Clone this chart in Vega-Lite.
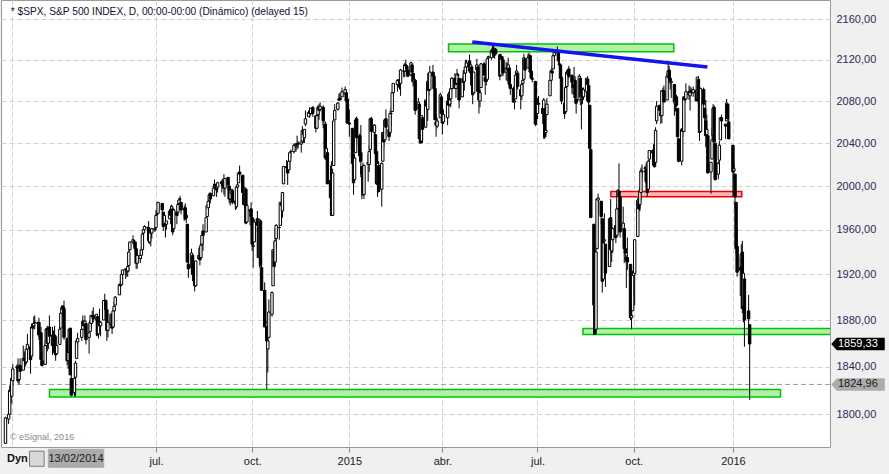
{
"$schema":"https://vega.github.io/schema/vega-lite/v6.json",
"width":829,"height":447,
"autosize":{"type":"none"},
"padding":{"left":1,"top":0,"right":59,"bottom":27},
"background":"#f0f0f0",
"config":{"view":{"fill":"white","stroke":"#9a9a9a","strokeWidth":1},"font":"Liberation Sans"},
"datasets":{
"ohlc":[
{"d":"2014-02-07","o":1776,"h":1798,"l":1776,"c":1797},
{"d":"2014-02-10","o":1796,"h":1800,"l":1792,"c":1800},
{"d":"2014-02-11","o":1800,"h":1824,"l":1800,"c":1820},
{"d":"2014-02-12","o":1820,"h":1826,"l":1815,"c":1819},
{"d":"2014-02-13","o":1815,"h":1830,"l":1809,"c":1830},
{"d":"2014-02-14","o":1828,"h":1842,"l":1824,"c":1838},
{"d":"2014-02-18","o":1839,"h":1842,"l":1835,"c":1840},
{"d":"2014-02-19","o":1840,"h":1847,"l":1826,"c":1828},
{"d":"2014-02-20","o":1829,"h":1842,"l":1825,"c":1839},
{"d":"2014-02-21","o":1841,"h":1847,"l":1835,"c":1836},
{"d":"2014-02-24","o":1837,"h":1858,"l":1837,"c":1847},
{"d":"2014-02-25","o":1847,"h":1853,"l":1841,"c":1845},
{"d":"2014-02-26","o":1846,"h":1852,"l":1840,"c":1846},
{"d":"2014-02-27","o":1844,"h":1855,"l":1842,"c":1855},
{"d":"2014-02-28","o":1855,"h":1868,"l":1846,"c":1859},
{"d":"2014-03-03","o":1857,"h":1857,"l":1834,"c":1846},
{"d":"2014-03-04","o":1849,"h":1877,"l":1849,"c":1874},
{"d":"2014-03-05","o":1874,"h":1876,"l":1871,"c":1873},
{"d":"2014-03-06","o":1875,"h":1883,"l":1874,"c":1877},
{"d":"2014-03-07","o":1878,"h":1884,"l":1872,"c":1878},
{"d":"2014-03-10","o":1878,"h":1878,"l":1867,"c":1877},
{"d":"2014-03-11","o":1878,"h":1882,"l":1863,"c":1867},
{"d":"2014-03-12","o":1866,"h":1868,"l":1858,"c":1868},
{"d":"2014-03-13","o":1869,"h":1874,"l":1841,"c":1846},
{"d":"2014-03-14","o":1845,"h":1853,"l":1840,"c":1841},
{"d":"2014-03-17","o":1842,"h":1862,"l":1842,"c":1858},
{"d":"2014-03-18","o":1858,"h":1873,"l":1858,"c":1872},
{"d":"2014-03-19","o":1873,"h":1875,"l":1853,"c":1860},
{"d":"2014-03-20","o":1860,"h":1873,"l":1855,"c":1872},
{"d":"2014-03-21","o":1874,"h":1884,"l":1864,"c":1866},
{"d":"2014-03-24","o":1867,"h":1874,"l":1850,"c":1858},
{"d":"2014-03-25","o":1859,"h":1871,"l":1859,"c":1866},
{"d":"2014-03-26","o":1867,"h":1875,"l":1852,"c":1852},
{"d":"2014-03-27","o":1852,"h":1856,"l":1845,"c":1850},
{"d":"2014-03-28","o":1851,"h":1866,"l":1851,"c":1858},
{"d":"2014-03-31","o":1859,"h":1873,"l":1859,"c":1872},
{"d":"2014-04-01","o":1873,"h":1886,"l":1873,"c":1886},
{"d":"2014-04-02","o":1886,"h":1893,"l":1884,"c":1891},
{"d":"2014-04-03","o":1892,"h":1893,"l":1883,"c":1889},
{"d":"2014-04-04","o":1890,"h":1897,"l":1863,"c":1865},
{"d":"2014-04-07","o":1864,"h":1865,"l":1841,"c":1845},
{"d":"2014-04-08","o":1845,"h":1855,"l":1838,"c":1852},
{"d":"2014-04-09","o":1852,"h":1872,"l":1849,"c":1872},
{"d":"2014-04-10","o":1873,"h":1873,"l":1833,"c":1833},
{"d":"2014-04-11","o":1830,"h":1835,"l":1815,"c":1816},
{"d":"2014-04-14","o":1818,"h":1834,"l":1815,"c":1830},
{"d":"2014-04-15","o":1831,"h":1845,"l":1815,"c":1843},
{"d":"2014-04-16","o":1847,"h":1862,"l":1847,"c":1862},
{"d":"2014-04-17","o":1861,"h":1869,"l":1857,"c":1864},
{"d":"2014-04-21","o":1865,"h":1872,"l":1862,"c":1872},
{"d":"2014-04-22","o":1872,"h":1884,"l":1872,"c":1879},
{"d":"2014-04-23","o":1879,"h":1879,"l":1873,"c":1875},
{"d":"2014-04-24","o":1876,"h":1884,"l":1868,"c":1879},
{"d":"2014-04-25","o":1877,"h":1877,"l":1859,"c":1863},
{"d":"2014-04-28","o":1865,"h":1877,"l":1851,"c":1869},
{"d":"2014-04-29","o":1870,"h":1880,"l":1870,"c":1878},
{"d":"2014-04-30","o":1877,"h":1884,"l":1873,"c":1884},
{"d":"2014-05-01","o":1884,"h":1888,"l":1878,"c":1883},
{"d":"2014-05-02","o":1884,"h":1891,"l":1878,"c":1881},
{"d":"2014-05-05","o":1880,"h":1885,"l":1866,"c":1885},
{"d":"2014-05-06","o":1883,"h":1883,"l":1867,"c":1867},
{"d":"2014-05-07","o":1868,"h":1879,"l":1864,"c":1878},
{"d":"2014-05-08","o":1877,"h":1890,"l":1871,"c":1875},
{"d":"2014-05-09","o":1875,"h":1879,"l":1866,"c":1878},
{"d":"2014-05-12","o":1880,"h":1897,"l":1880,"c":1897},
{"d":"2014-05-13","o":1897,"h":1903,"l":1896,"c":1897},
{"d":"2014-05-14","o":1897,"h":1898,"l":1886,"c":1889},
{"d":"2014-05-15","o":1889,"h":1889,"l":1862,"c":1871},
{"d":"2014-05-16","o":1871,"h":1878,"l":1865,"c":1878},
{"d":"2014-05-19","o":1876,"h":1886,"l":1873,"c":1885},
{"d":"2014-05-20","o":1884,"h":1884,"l":1868,"c":1873},
{"d":"2014-05-21","o":1874,"h":1889,"l":1874,"c":1888},
{"d":"2014-05-22","o":1888,"h":1896,"l":1888,"c":1892},
{"d":"2014-05-23","o":1893,"h":1901,"l":1893,"c":1900},
{"d":"2014-05-27","o":1902,"h":1912,"l":1902,"c":1911},
{"d":"2014-05-28","o":1911,"h":1914,"l":1908,"c":1910},
{"d":"2014-05-29","o":1911,"h":1920,"l":1911,"c":1920},
{"d":"2014-05-30","o":1920,"h":1924,"l":1916,"c":1924},
{"d":"2014-06-02","o":1924,"h":1925,"l":1916,"c":1925},
{"d":"2014-06-03","o":1924,"h":1925,"l":1918,"c":1924},
{"d":"2014-06-04","o":1923,"h":1928,"l":1918,"c":1927},
{"d":"2014-06-05","o":1928,"h":1942,"l":1922,"c":1940},
{"d":"2014-06-06","o":1942,"h":1949,"l":1941,"c":1949},
{"d":"2014-06-09","o":1949,"h":1955,"l":1947,"c":1951},
{"d":"2014-06-10","o":1950,"h":1951,"l":1944,"c":1950},
{"d":"2014-06-11","o":1949,"h":1949,"l":1940,"c":1943},
{"d":"2014-06-12","o":1943,"h":1943,"l":1925,"c":1930},
{"d":"2014-06-13","o":1930,"h":1937,"l":1925,"c":1937},
{"d":"2014-06-16","o":1934,"h":1941,"l":1930,"c":1937},
{"d":"2014-06-17","o":1937,"h":1944,"l":1934,"c":1942},
{"d":"2014-06-18","o":1942,"h":1957,"l":1939,"c":1956},
{"d":"2014-06-19","o":1957,"h":1961,"l":1950,"c":1960},
{"d":"2014-06-20","o":1960,"h":1964,"l":1959,"c":1963},
{"d":"2014-06-23","o":1962,"h":1963,"l":1958,"c":1962},
{"d":"2014-06-24","o":1962,"h":1968,"l":1948,"c":1950},
{"d":"2014-06-25","o":1949,"h":1960,"l":1947,"c":1959},
{"d":"2014-06-26","o":1959,"h":1959,"l":1945,"c":1957},
{"d":"2014-06-27","o":1957,"h":1961,"l":1952,"c":1961},
{"d":"2014-06-30","o":1961,"h":1963,"l":1958,"c":1960},
{"d":"2014-07-01","o":1962,"h":1978,"l":1962,"c":1973},
{"d":"2014-07-02","o":1974,"h":1976,"l":1972,"c":1974},
{"d":"2014-07-03","o":1975,"h":1985,"l":1975,"c":1985},
{"d":"2014-07-07","o":1984,"h":1984,"l":1975,"c":1978},
{"d":"2014-07-08","o":1976,"h":1976,"l":1959,"c":1963},
{"d":"2014-07-09","o":1965,"h":1974,"l":1965,"c":1973},
{"d":"2014-07-10","o":1966,"h":1969,"l":1953,"c":1965},
{"d":"2014-07-11","o":1965,"h":1968,"l":1960,"c":1968},
{"d":"2014-07-14","o":1970,"h":1979,"l":1970,"c":1977},
{"d":"2014-07-15","o":1977,"h":1982,"l":1965,"c":1973},
{"d":"2014-07-16","o":1976,"h":1983,"l":1975,"c":1981},
{"d":"2014-07-17","o":1979,"h":1981,"l":1955,"c":1958},
{"d":"2014-07-18","o":1961,"h":1979,"l":1961,"c":1978},
{"d":"2014-07-21","o":1976,"h":1976,"l":1965,"c":1973},
{"d":"2014-07-22","o":1976,"h":1986,"l":1976,"c":1983},
{"d":"2014-07-23","o":1984,"h":1989,"l":1982,"c":1987},
{"d":"2014-07-24","o":1988,"h":1991,"l":1984,"c":1988},
{"d":"2014-07-25","o":1985,"h":1985,"l":1974,"c":1978},
{"d":"2014-07-28","o":1978,"h":1982,"l":1968,"c":1979},
{"d":"2014-07-29","o":1980,"h":1984,"l":1969,"c":1970},
{"d":"2014-07-30","o":1973,"h":1979,"l":1966,"c":1971},
{"d":"2014-07-31","o":1965,"h":1965,"l":1930,"c":1931},
{"d":"2014-08-01","o":1929,"h":1937,"l":1917,"c":1925},
{"d":"2014-08-04","o":1926,"h":1943,"l":1922,"c":1939},
{"d":"2014-08-05","o":1937,"h":1938,"l":1914,"c":1920},
{"d":"2014-08-06","o":1918,"h":1929,"l":1911,"c":1920},
{"d":"2014-08-07","o":1923,"h":1928,"l":1905,"c":1910},
{"d":"2014-08-08","o":1910,"h":1932,"l":1909,"c":1932},
{"d":"2014-08-11","o":1934,"h":1944,"l":1934,"c":1937},
{"d":"2014-08-12","o":1936,"h":1940,"l":1928,"c":1933},
{"d":"2014-08-13","o":1935,"h":1948,"l":1935,"c":1946},
{"d":"2014-08-14","o":1947,"h":1955,"l":1945,"c":1955},
{"d":"2014-08-15","o":1959,"h":1965,"l":1941,"c":1955},
{"d":"2014-08-18","o":1958,"h":1971,"l":1958,"c":1971},
{"d":"2014-08-19","o":1972,"h":1982,"l":1972,"c":1982},
{"d":"2014-08-20","o":1980,"h":1987,"l":1979,"c":1986},
{"d":"2014-08-21","o":1987,"h":1994,"l":1986,"c":1992},
{"d":"2014-08-22","o":1993,"h":1994,"l":1984,"c":1988},
{"d":"2014-08-25","o":1991,"h":2002,"l":1991,"c":1998},
{"d":"2014-08-26","o":1999,"h":2006,"l":1998,"c":2000},
{"d":"2014-08-27","o":2000,"h":2002,"l":1996,"c":2000},
{"d":"2014-08-28","o":1998,"h":1998,"l":1990,"c":1997},
{"d":"2014-08-29","o":1999,"h":2004,"l":1994,"c":2003},
{"d":"2014-09-02","o":2004,"h":2006,"l":1994,"c":2002},
{"d":"2014-09-03","o":2003,"h":2007,"l":1998,"c":2000},
{"d":"2014-09-04","o":2001,"h":2011,"l":1992,"c":1998},
{"d":"2014-09-05","o":1998,"h":2007,"l":1990,"c":2007},
{"d":"2014-09-08","o":2008,"h":2008,"l":1996,"c":2001},
{"d":"2014-09-09","o":2000,"h":2001,"l":1984,"c":1988},
{"d":"2014-09-10","o":1988,"h":1996,"l":1982,"c":1996},
{"d":"2014-09-11","o":1993,"h":1997,"l":1986,"c":1997},
{"d":"2014-09-12","o":1996,"h":1997,"l":1983,"c":1985},
{"d":"2014-09-15","o":1986,"h":1987,"l":1978,"c":1984},
{"d":"2014-09-16","o":1981,"h":2000,"l":1979,"c":1999},
{"d":"2014-09-17","o":1999,"h":2010,"l":1993,"c":2001},
{"d":"2014-09-18","o":2003,"h":2013,"l":2003,"c":2012},
{"d":"2014-09-19","o":2013,"h":2019,"l":2006,"c":2011},
{"d":"2014-09-22","o":2010,"h":2010,"l":1990,"c":1994},
{"d":"2014-09-23","o":1992,"h":1995,"l":1982,"c":1983},
{"d":"2014-09-24","o":1983,"h":1999,"l":1979,"c":1998},
{"d":"2014-09-25","o":1997,"h":1997,"l":1965,"c":1966},
{"d":"2014-09-26","o":1967,"h":1983,"l":1967,"c":1982},
{"d":"2014-09-29","o":1978,"h":1978,"l":1964,"c":1977},
{"d":"2014-09-30","o":1979,"h":1985,"l":1968,"c":1972},
{"d":"2014-10-01","o":1971,"h":1972,"l":1941,"c":1947},
{"d":"2014-10-02","o":1945,"h":1952,"l":1926,"c":1946},
{"d":"2014-10-03","o":1949,"h":1970,"l":1949,"c":1967},
{"d":"2014-10-06","o":1970,"h":1977,"l":1958,"c":1964},
{"d":"2014-10-07","o":1962,"h":1962,"l":1935,"c":1935},
{"d":"2014-10-08","o":1935,"h":1970,"l":1926,"c":1969},
{"d":"2014-10-09","o":1968,"h":1968,"l":1927,"c":1928},
{"d":"2014-10-10","o":1926,"h":1936,"l":1906,"c":1906},
{"d":"2014-10-13","o":1906,"h":1913,"l":1874,"c":1874},
{"d":"2014-10-14","o":1878,"h":1898,"l":1871,"c":1878},
{"d":"2014-10-15","o":1874,"h":1874,"l":1821,"c":1862},
{"d":"2014-10-16","o":1855,"h":1876,"l":1835,"c":1862},
{"d":"2014-10-17","o":1865,"h":1898,"l":1865,"c":1887},
{"d":"2014-10-20","o":1885,"h":1905,"l":1883,"c":1904},
{"d":"2014-10-21","o":1910,"h":1942,"l":1910,"c":1942},
{"d":"2014-10-22","o":1941,"h":1950,"l":1927,"c":1927},
{"d":"2014-10-23","o":1931,"h":1961,"l":1931,"c":1950},
{"d":"2014-10-24","o":1952,"h":1965,"l":1944,"c":1964},
{"d":"2014-10-27","o":1962,"h":1964,"l":1951,"c":1962},
{"d":"2014-10-28","o":1964,"h":1985,"l":1964,"c":1985},
{"d":"2014-10-29","o":1984,"h":1991,"l":1970,"c":1982},
{"d":"2014-10-30","o":1977,"h":1994,"l":1971,"c":1994},
{"d":"2014-10-31","o":2002,"h":2018,"l":2002,"c":2018},
{"d":"2014-11-03","o":2018,"h":2024,"l":2013,"c":2017},
{"d":"2014-11-04","o":2015,"h":2015,"l":2001,"c":2012},
{"d":"2014-11-05","o":2015,"h":2024,"l":2015,"c":2023},
{"d":"2014-11-06","o":2023,"h":2031,"l":2015,"c":2031},
{"d":"2014-11-07","o":2032,"h":2034,"l":2026,"c":2032},
{"d":"2014-11-10","o":2032,"h":2038,"l":2030,"c":2038},
{"d":"2014-11-11","o":2038,"h":2040,"l":2035,"c":2039},
{"d":"2014-11-12","o":2037,"h":2040,"l":2032,"c":2038},
{"d":"2014-11-13","o":2039,"h":2047,"l":2034,"c":2039},
{"d":"2014-11-14","o":2040,"h":2042,"l":2035,"c":2039},
{"d":"2014-11-17","o":2039,"h":2043,"l":2031,"c":2041},
{"d":"2014-11-18","o":2042,"h":2056,"l":2042,"c":2052},
{"d":"2014-11-19","o":2051,"h":2052,"l":2040,"c":2048},
{"d":"2014-11-20","o":2045,"h":2053,"l":2040,"c":2053},
{"d":"2014-11-21","o":2058,"h":2071,"l":2056,"c":2063},
{"d":"2014-11-24","o":2065,"h":2071,"l":2065,"c":2069},
{"d":"2014-11-25","o":2070,"h":2074,"l":2064,"c":2068},
{"d":"2014-11-26","o":2068,"h":2073,"l":2066,"c":2073},
{"d":"2014-11-28","o":2074,"h":2075,"l":2065,"c":2068},
{"d":"2014-12-01","o":2066,"h":2066,"l":2050,"c":2054},
{"d":"2014-12-02","o":2054,"h":2068,"l":2054,"c":2066},
{"d":"2014-12-03","o":2067,"h":2076,"l":2064,"c":2074},
{"d":"2014-12-04","o":2074,"h":2077,"l":2062,"c":2071},
{"d":"2014-12-05","o":2072,"h":2079,"l":2070,"c":2075},
{"d":"2014-12-08","o":2074,"h":2076,"l":2054,"c":2061},
{"d":"2014-12-09","o":2057,"h":2060,"l":2035,"c":2060},
{"d":"2014-12-10","o":2058,"h":2058,"l":2024,"c":2026},
{"d":"2014-12-11","o":2028,"h":2056,"l":2027,"c":2035},
{"d":"2014-12-12","o":2031,"h":2031,"l":2002,"c":2002},
{"d":"2014-12-15","o":2005,"h":2019,"l":1982,"c":1989},
{"d":"2014-12-16","o":1986,"h":2023,"l":1973,"c":1973},
{"d":"2014-12-17","o":1973,"h":2016,"l":1973,"c":2012},
{"d":"2014-12-18","o":2019,"h":2061,"l":2019,"c":2061},
{"d":"2014-12-19","o":2062,"h":2077,"l":2062,"c":2071},
{"d":"2014-12-22","o":2072,"h":2079,"l":2071,"c":2078},
{"d":"2014-12-23","o":2081,"h":2087,"l":2080,"c":2082},
{"d":"2014-12-24","o":2083,"h":2088,"l":2081,"c":2081},
{"d":"2014-12-26","o":2084,"h":2093,"l":2084,"c":2089},
{"d":"2014-12-29","o":2087,"h":2094,"l":2086,"c":2091},
{"d":"2014-12-30","o":2088,"h":2088,"l":2079,"c":2080},
{"d":"2014-12-31","o":2082,"h":2085,"l":2058,"c":2059},
{"d":"2015-01-02","o":2059,"h":2072,"l":2046,"c":2058},
{"d":"2015-01-05","o":2054,"h":2054,"l":2017,"c":2021},
{"d":"2015-01-06","o":2022,"h":2030,"l":1992,"c":2003},
{"d":"2015-01-07","o":2006,"h":2030,"l":2006,"c":2026},
{"d":"2015-01-08","o":2031,"h":2064,"l":2031,"c":2062},
{"d":"2015-01-09","o":2063,"h":2065,"l":2038,"c":2045},
{"d":"2015-01-12","o":2047,"h":2049,"l":2022,"c":2028},
{"d":"2015-01-13","o":2031,"h":2057,"l":2008,"c":2023},
{"d":"2015-01-14","o":2018,"h":2018,"l":1988,"c":2011},
{"d":"2015-01-15","o":2013,"h":2022,"l":1991,"c":1992},
{"d":"2015-01-16","o":1992,"h":2020,"l":1988,"c":2019},
{"d":"2015-01-20","o":2020,"h":2029,"l":2004,"c":2022},
{"d":"2015-01-21","o":2020,"h":2038,"l":2013,"c":2032},
{"d":"2015-01-22","o":2034,"h":2064,"l":2026,"c":2063},
{"d":"2015-01-23","o":2063,"h":2065,"l":2050,"c":2051},
{"d":"2015-01-26","o":2050,"h":2058,"l":2041,"c":2057},
{"d":"2015-01-27","o":2048,"h":2049,"l":2017,"c":2030},
{"d":"2015-01-28","o":2032,"h":2042,"l":2001,"c":2002},
{"d":"2015-01-29","o":2003,"h":2025,"l":1990,"c":2021},
{"d":"2015-01-30","o":2019,"h":2023,"l":1994,"c":1995},
{"d":"2015-02-02","o":1997,"h":2022,"l":1981,"c":2021},
{"d":"2015-02-03","o":2023,"h":2050,"l":2023,"c":2050},
{"d":"2015-02-04","o":2049,"h":2054,"l":2036,"c":2041},
{"d":"2015-02-05","o":2043,"h":2063,"l":2043,"c":2062},
{"d":"2015-02-06","o":2063,"h":2072,"l":2049,"c":2055},
{"d":"2015-02-09","o":2053,"h":2057,"l":2042,"c":2046},
{"d":"2015-02-10","o":2050,"h":2071,"l":2048,"c":2068},
{"d":"2015-02-11","o":2068,"h":2074,"l":2057,"c":2068},
{"d":"2015-02-12","o":2070,"h":2089,"l":2070,"c":2088},
{"d":"2015-02-13","o":2088,"h":2097,"l":2086,"c":2097},
{"d":"2015-02-17","o":2096,"h":2101,"l":2089,"c":2100},
{"d":"2015-02-18","o":2100,"h":2101,"l":2093,"c":2100},
{"d":"2015-02-19","o":2099,"h":2102,"l":2091,"c":2098},
{"d":"2015-02-20","o":2097,"h":2111,"l":2085,"c":2110},
{"d":"2015-02-23","o":2109,"h":2110,"l":2103,"c":2109},
{"d":"2015-02-24","o":2109,"h":2117,"l":2103,"c":2115},
{"d":"2015-02-25","o":2115,"h":2120,"l":2108,"c":2114},
{"d":"2015-02-26","o":2114,"h":2115,"l":2104,"c":2111},
{"d":"2015-02-27","o":2110,"h":2112,"l":2103,"c":2104},
{"d":"2015-03-02","o":2105,"h":2118,"l":2104,"c":2117},
{"d":"2015-03-03","o":2115,"h":2115,"l":2098,"c":2108},
{"d":"2015-03-04","o":2107,"h":2107,"l":2094,"c":2099},
{"d":"2015-03-05","o":2099,"h":2104,"l":2096,"c":2101},
{"d":"2015-03-06","o":2100,"h":2101,"l":2067,"c":2071},
{"d":"2015-03-09","o":2073,"h":2083,"l":2072,"c":2079},
{"d":"2015-03-10","o":2077,"h":2077,"l":2044,"c":2044},
{"d":"2015-03-11","o":2045,"h":2050,"l":2040,"c":2040},
{"d":"2015-03-12","o":2042,"h":2066,"l":2042,"c":2066},
{"d":"2015-03-13","o":2064,"h":2064,"l":2040,"c":2053},
{"d":"2015-03-16","o":2055,"h":2081,"l":2055,"c":2081},
{"d":"2015-03-17","o":2080,"h":2080,"l":2065,"c":2075},
{"d":"2015-03-18","o":2072,"h":2107,"l":2061,"c":2099},
{"d":"2015-03-19","o":2098,"h":2099,"l":2085,"c":2090},
{"d":"2015-03-20","o":2091,"h":2114,"l":2091,"c":2108},
{"d":"2015-03-23","o":2108,"h":2115,"l":2104,"c":2104},
{"d":"2015-03-24","o":2104,"h":2107,"l":2091,"c":2092},
{"d":"2015-03-25","o":2092,"h":2098,"l":2062,"c":2062},
{"d":"2015-03-26","o":2060,"h":2067,"l":2046,"c":2057},
{"d":"2015-03-27","o":2056,"h":2064,"l":2054,"c":2061},
{"d":"2015-03-30","o":2064,"h":2088,"l":2064,"c":2086},
{"d":"2015-03-31","o":2084,"h":2084,"l":2067,"c":2068},
{"d":"2015-04-01","o":2067,"h":2067,"l":2048,"c":2059},
{"d":"2015-04-02","o":2060,"h":2072,"l":2058,"c":2067},
{"d":"2015-04-06","o":2064,"h":2087,"l":2057,"c":2080},
{"d":"2015-04-07","o":2080,"h":2089,"l":2076,"c":2076},
{"d":"2015-04-08","o":2077,"h":2086,"l":2075,"c":2081},
{"d":"2015-04-09","o":2082,"h":2092,"l":2074,"c":2092},
{"d":"2015-04-10","o":2092,"h":2103,"l":2090,"c":2102},
{"d":"2015-04-13","o":2102,"h":2107,"l":2092,"c":2092},
{"d":"2015-04-14","o":2092,"h":2097,"l":2083,"c":2096},
{"d":"2015-04-15","o":2097,"h":2111,"l":2097,"c":2106},
{"d":"2015-04-16","o":2105,"h":2107,"l":2101,"c":2105},
{"d":"2015-04-17","o":2102,"h":2102,"l":2073,"c":2081},
{"d":"2015-04-20","o":2084,"h":2101,"l":2084,"c":2101},
{"d":"2015-04-21","o":2102,"h":2110,"l":2095,"c":2098},
{"d":"2015-04-22","o":2099,"h":2110,"l":2090,"c":2107},
{"d":"2015-04-23","o":2107,"h":2120,"l":2104,"c":2113},
{"d":"2015-04-24","o":2113,"h":2120,"l":2113,"c":2117},
{"d":"2015-04-27","o":2119,"h":2125,"l":2107,"c":2109},
{"d":"2015-04-28","o":2108,"h":2116,"l":2095,"c":2115},
{"d":"2015-04-29","o":2113,"h":2113,"l":2098,"c":2106},
{"d":"2015-04-30","o":2106,"h":2106,"l":2077,"c":2086},
{"d":"2015-05-01","o":2088,"h":2108,"l":2088,"c":2108},
{"d":"2015-05-04","o":2110,"h":2121,"l":2110,"c":2115},
{"d":"2015-05-05","o":2113,"h":2115,"l":2089,"c":2089},
{"d":"2015-05-06","o":2090,"h":2099,"l":2068,"c":2081},
{"d":"2015-05-07","o":2080,"h":2092,"l":2074,"c":2088},
{"d":"2015-05-08","o":2093,"h":2117,"l":2093,"c":2116},
{"d":"2015-05-11","o":2116,"h":2118,"l":2104,"c":2105},
{"d":"2015-05-12","o":2103,"h":2105,"l":2086,"c":2099},
{"d":"2015-05-13","o":2100,"h":2110,"l":2095,"c":2099},
{"d":"2015-05-14","o":2101,"h":2121,"l":2101,"c":2121},
{"d":"2015-05-15","o":2122,"h":2124,"l":2116,"c":2123},
{"d":"2015-05-18","o":2122,"h":2131,"l":2120,"c":2129},
{"d":"2015-05-19","o":2130,"h":2134,"l":2124,"c":2127},
{"d":"2015-05-20","o":2127,"h":2135,"l":2122,"c":2125},
{"d":"2015-05-21","o":2125,"h":2132,"l":2121,"c":2131},
{"d":"2015-05-22","o":2130,"h":2131,"l":2124,"c":2126},
{"d":"2015-05-26","o":2125,"h":2125,"l":2100,"c":2104},
{"d":"2015-05-27","o":2105,"h":2126,"l":2104,"c":2123},
{"d":"2015-05-28","o":2123,"h":2123,"l":2113,"c":2120},
{"d":"2015-05-29","o":2120,"h":2121,"l":2104,"c":2107},
{"d":"2015-06-01","o":2108,"h":2118,"l":2100,"c":2112},
{"d":"2015-06-02","o":2111,"h":2117,"l":2099,"c":2110},
{"d":"2015-06-03","o":2111,"h":2122,"l":2110,"c":2115},
{"d":"2015-06-04","o":2112,"h":2112,"l":2093,"c":2096},
{"d":"2015-06-05","o":2096,"h":2101,"l":2086,"c":2092},
{"d":"2015-06-08","o":2092,"h":2094,"l":2079,"c":2079},
{"d":"2015-06-09","o":2079,"h":2086,"l":2072,"c":2080},
{"d":"2015-06-10","o":2082,"h":2107,"l":2082,"c":2105},
{"d":"2015-06-11","o":2107,"h":2115,"l":2106,"c":2109},
{"d":"2015-06-12","o":2107,"h":2107,"l":2091,"c":2094},
{"d":"2015-06-15","o":2091,"h":2091,"l":2072,"c":2085},
{"d":"2015-06-16","o":2085,"h":2097,"l":2081,"c":2096},
{"d":"2015-06-17","o":2097,"h":2107,"l":2088,"c":2100},
{"d":"2015-06-18","o":2101,"h":2126,"l":2101,"c":2122},
{"d":"2015-06-19","o":2121,"h":2121,"l":2109,"c":2110},
{"d":"2015-06-22","o":2112,"h":2126,"l":2112,"c":2122},
{"d":"2015-06-23","o":2122,"h":2127,"l":2120,"c":2124},
{"d":"2015-06-24","o":2124,"h":2125,"l":2108,"c":2108},
{"d":"2015-06-25","o":2109,"h":2116,"l":2102,"c":2102},
{"d":"2015-06-26","o":2102,"h":2108,"l":2098,"c":2101},
{"d":"2015-06-29","o":2099,"h":2099,"l":2056,"c":2058},
{"d":"2015-06-30","o":2066,"h":2074,"l":2057,"c":2063},
{"d":"2015-07-01","o":2068,"h":2083,"l":2067,"c":2077},
{"d":"2015-07-02","o":2078,"h":2085,"l":2071,"c":2077},
{"d":"2015-07-06","o":2073,"h":2078,"l":2058,"c":2068},
{"d":"2015-07-07","o":2069,"h":2083,"l":2044,"c":2081},
{"d":"2015-07-08","o":2073,"h":2074,"l":2044,"c":2046},
{"d":"2015-07-09","o":2050,"h":2075,"l":2050,"c":2052},
{"d":"2015-07-10","o":2067,"h":2083,"l":2067,"c":2077},
{"d":"2015-07-13","o":2085,"h":2100,"l":2085,"c":2100},
{"d":"2015-07-14","o":2100,"h":2111,"l":2097,"c":2109},
{"d":"2015-07-15","o":2109,"h":2114,"l":2103,"c":2107},
{"d":"2015-07-16","o":2111,"h":2124,"l":2111,"c":2124},
{"d":"2015-07-17","o":2124,"h":2127,"l":2119,"c":2127},
{"d":"2015-07-20","o":2127,"h":2133,"l":2124,"c":2128},
{"d":"2015-07-21","o":2127,"h":2129,"l":2116,"c":2119},
{"d":"2015-07-22","o":2116,"h":2120,"l":2111,"c":2115},
{"d":"2015-07-23","o":2115,"h":2116,"l":2099,"c":2102},
{"d":"2015-07-24","o":2103,"h":2107,"l":2077,"c":2080},
{"d":"2015-07-27","o":2078,"h":2078,"l":2063,"c":2068},
{"d":"2015-07-28","o":2070,"h":2095,"l":2069,"c":2093},
{"d":"2015-07-29","o":2094,"h":2110,"l":2092,"c":2108},
{"d":"2015-07-30","o":2106,"h":2111,"l":2094,"c":2109},
{"d":"2015-07-31","o":2111,"h":2114,"l":2102,"c":2104},
{"d":"2015-08-03","o":2105,"h":2105,"l":2087,"c":2098},
{"d":"2015-08-04","o":2097,"h":2102,"l":2086,"c":2093},
{"d":"2015-08-05","o":2096,"h":2113,"l":2096,"c":2100},
{"d":"2015-08-06","o":2100,"h":2104,"l":2077,"c":2083},
{"d":"2015-08-07","o":2082,"h":2082,"l":2068,"c":2078},
{"d":"2015-08-10","o":2081,"h":2106,"l":2081,"c":2104},
{"d":"2015-08-11","o":2102,"h":2102,"l":2076,"c":2084},
{"d":"2015-08-12","o":2082,"h":2090,"l":2053,"c":2086},
{"d":"2015-08-13","o":2086,"h":2093,"l":2077,"c":2083},
{"d":"2015-08-14","o":2084,"h":2093,"l":2081,"c":2091},
{"d":"2015-08-17","o":2089,"h":2102,"l":2080,"c":2102},
{"d":"2015-08-18","o":2101,"h":2104,"l":2094,"c":2096},
{"d":"2015-08-19","o":2095,"h":2095,"l":2070,"c":2079},
{"d":"2015-08-20","o":2076,"h":2076,"l":2035,"c":2035},
{"d":"2015-08-21","o":2034,"h":2034,"l":1971,"c":1971},
{"d":"2015-08-24","o":1965,"h":1965,"l":1867,"c":1893},
{"d":"2015-08-25","o":1898,"h":1948,"l":1867,"c":1868},
{"d":"2015-08-26","o":1872,"h":1943,"l":1872,"c":1940},
{"d":"2015-08-27","o":1943,"h":1989,"l":1943,"c":1988},
{"d":"2015-08-28","o":1987,"h":1993,"l":1975,"c":1989},
{"d":"2015-08-31","o":1986,"h":1986,"l":1965,"c":1972},
{"d":"2015-09-01","o":1970,"h":1970,"l":1904,"c":1914},
{"d":"2015-09-02","o":1916,"h":1948,"l":1916,"c":1948},
{"d":"2015-09-03","o":1950,"h":1975,"l":1944,"c":1951},
{"d":"2015-09-04","o":1947,"h":1947,"l":1909,"c":1921},
{"d":"2015-09-08","o":1927,"h":1970,"l":1927,"c":1970},
{"d":"2015-09-09","o":1971,"h":1988,"l":1937,"c":1942},
{"d":"2015-09-10","o":1941,"h":1965,"l":1931,"c":1952},
{"d":"2015-09-11","o":1951,"h":1962,"l":1939,"c":1961},
{"d":"2015-09-14","o":1964,"h":1964,"l":1948,"c":1953},
{"d":"2015-09-15","o":1955,"h":1983,"l":1954,"c":1979},
{"d":"2015-09-16","o":1979,"h":1997,"l":1977,"c":1996},
{"d":"2015-09-17","o":1995,"h":2021,"l":1984,"c":1990},
{"d":"2015-09-18","o":1990,"h":1990,"l":1953,"c":1958},
{"d":"2015-09-21","o":1960,"h":1981,"l":1953,"c":1966},
{"d":"2015-09-22","o":1961,"h":1961,"l":1930,"c":1943},
{"d":"2015-09-23","o":1943,"h":1950,"l":1933,"c":1939},
{"d":"2015-09-24","o":1935,"h":1937,"l":1908,"c":1932},
{"d":"2015-09-25","o":1935,"h":1953,"l":1924,"c":1931},
{"d":"2015-09-28","o":1929,"h":1929,"l":1880,"c":1882},
{"d":"2015-09-29","o":1882,"h":1899,"l":1872,"c":1884},
{"d":"2015-09-30","o":1888,"h":1920,"l":1888,"c":1920},
{"d":"2015-10-01","o":1919,"h":1927,"l":1900,"c":1923},
{"d":"2015-10-02","o":1921,"h":1951,"l":1893,"c":1951},
{"d":"2015-10-05","o":1954,"h":1989,"l":1954,"c":1987},
{"d":"2015-10-06","o":1986,"h":1992,"l":1977,"c":1979},
{"d":"2015-10-07","o":1983,"h":1999,"l":1977,"c":1996},
{"d":"2015-10-08","o":1994,"h":2017,"l":1987,"c":2014},
{"d":"2015-10-09","o":2013,"h":2020,"l":2008,"c":2014},
{"d":"2015-10-12","o":2016,"h":2019,"l":2012,"c":2017},
{"d":"2015-10-13","o":2015,"h":2022,"l":2002,"c":2004},
{"d":"2015-10-14","o":2004,"h":2009,"l":1990,"c":1994},
{"d":"2015-10-15","o":1997,"h":2024,"l":1997,"c":2023},
{"d":"2015-10-16","o":2025,"h":2033,"l":2021,"c":2033},
{"d":"2015-10-19","o":2031,"h":2034,"l":2019,"c":2033},
{"d":"2015-10-20","o":2033,"h":2039,"l":2026,"c":2031},
{"d":"2015-10-21","o":2033,"h":2038,"l":2017,"c":2018},
{"d":"2015-10-22","o":2022,"h":2055,"l":2022,"c":2052},
{"d":"2015-10-23","o":2061,"h":2080,"l":2058,"c":2075},
{"d":"2015-10-26","o":2076,"h":2076,"l":2066,"c":2071},
{"d":"2015-10-27","o":2068,"h":2071,"l":2058,"c":2066},
{"d":"2015-10-28","o":2066,"h":2090,"l":2059,"c":2090},
{"d":"2015-10-29","o":2089,"h":2093,"l":2082,"c":2089},
{"d":"2015-10-30","o":2090,"h":2095,"l":2079,"c":2079},
{"d":"2015-11-02","o":2081,"h":2106,"l":2081,"c":2104},
{"d":"2015-11-03","o":2103,"h":2116,"l":2098,"c":2109},
{"d":"2015-11-04","o":2110,"h":2114,"l":2097,"c":2102},
{"d":"2015-11-05","o":2102,"h":2109,"l":2091,"c":2100},
{"d":"2015-11-06","o":2098,"h":2101,"l":2083,"c":2099},
{"d":"2015-11-09","o":2096,"h":2096,"l":2066,"c":2079},
{"d":"2015-11-10","o":2077,"h":2084,"l":2070,"c":2081},
{"d":"2015-11-11","o":2084,"h":2086,"l":2074,"c":2076},
{"d":"2015-11-12","o":2073,"h":2073,"l":2045,"c":2046},
{"d":"2015-11-13","o":2044,"h":2045,"l":2022,"c":2023},
{"d":"2015-11-16","o":2023,"h":2053,"l":2019,"c":2053},
{"d":"2015-11-17","o":2054,"h":2066,"l":2046,"c":2051},
{"d":"2015-11-18","o":2051,"h":2083,"l":2051,"c":2084},
{"d":"2015-11-19","o":2084,"h":2086,"l":2078,"c":2081},
{"d":"2015-11-20","o":2082,"h":2097,"l":2082,"c":2089},
{"d":"2015-11-23","o":2089,"h":2095,"l":2081,"c":2086},
{"d":"2015-11-24","o":2085,"h":2094,"l":2071,"c":2089},
{"d":"2015-11-25","o":2090,"h":2093,"l":2086,"c":2088},
{"d":"2015-11-27","o":2088,"h":2094,"l":2084,"c":2091},
{"d":"2015-11-30","o":2090,"h":2094,"l":2080,"c":2080},
{"d":"2015-12-01","o":2082,"h":2103,"l":2082,"c":2103},
{"d":"2015-12-02","o":2101,"h":2104,"l":2077,"c":2080},
{"d":"2015-12-03","o":2081,"h":2085,"l":2042,"c":2050},
{"d":"2015-12-04","o":2051,"h":2093,"l":2051,"c":2092},
{"d":"2015-12-07","o":2091,"h":2093,"l":2070,"c":2077},
{"d":"2015-12-08","o":2073,"h":2073,"l":2053,"c":2064},
{"d":"2015-12-09","o":2061,"h":2081,"l":2036,"c":2047},
{"d":"2015-12-10","o":2048,"h":2067,"l":2045,"c":2053},
{"d":"2015-12-11","o":2047,"h":2047,"l":2013,"c":2012},
{"d":"2015-12-14","o":2013,"h":2022,"l":1993,"c":2022},
{"d":"2015-12-15","o":2025,"h":2054,"l":2025,"c":2043},
{"d":"2015-12-16","o":2047,"h":2077,"l":2042,"c":2073},
{"d":"2015-12-17","o":2074,"h":2076,"l":2041,"c":2041},
{"d":"2015-12-18","o":2040,"h":2040,"l":2005,"c":2006},
{"d":"2015-12-21","o":2011,"h":2023,"l":2006,"c":2021},
{"d":"2015-12-22","o":2024,"h":2042,"l":2020,"c":2038},
{"d":"2015-12-23","o":2043,"h":2064,"l":2043,"c":2064},
{"d":"2015-12-24","o":2064,"h":2067,"l":2058,"c":2061},
{"d":"2015-12-28","o":2058,"h":2058,"l":2044,"c":2056},
{"d":"2015-12-29","o":2061,"h":2082,"l":2061,"c":2078},
{"d":"2015-12-30","o":2077,"h":2077,"l":2062,"c":2063},
{"d":"2015-12-31","o":2060,"h":2063,"l":2044,"c":2044},
{"d":"2016-01-04","o":2038,"h":2038,"l":1990,"c":2013},
{"d":"2016-01-05","o":2014,"h":2021,"l":2005,"c":2016},
{"d":"2016-01-06","o":2011,"h":2011,"l":1979,"c":1990},
{"d":"2016-01-07","o":1985,"h":1985,"l":1938,"c":1943},
{"d":"2016-01-08","o":1945,"h":1961,"l":1918,"c":1922},
{"d":"2016-01-11","o":1926,"h":1935,"l":1901,"c":1924},
{"d":"2016-01-12","o":1927,"h":1947,"l":1914,"c":1938},
{"d":"2016-01-13","o":1940,"h":1950,"l":1886,"c":1890},
{"d":"2016-01-14","o":1892,"h":1935,"l":1878,"c":1921},
{"d":"2016-01-15","o":1916,"h":1916,"l":1857,"c":1880},
{"d":"2016-01-19","o":1888,"h":1902,"l":1864,"c":1881},
{"d":"2016-01-20","o":1876,"h":1876,"l":1812,"c":1859.33}
],
"zones":[
{"x1":"2015-04-06T22:00:00Z","x2":"2015-11-08T10:00:00Z","lo":2127.9,"hi":2135.5,"kind":"support"},
{"x1":"2015-08-13T12:00:00Z","x2":"2016-06-01T00:00:00Z","lo":1867.5,"hi":1872.7,"kind":"support"},
{"x1":"2014-03-21T02:00:00Z","x2":"2016-02-18T12:00:00Z","lo":1814.5,"hi":1820.7,"kind":"support"},
{"x1":"2015-09-09T05:00:00Z","x2":"2016-01-12T10:00:00Z","lo":1990.1,"hi":1995,"kind":"resistance"}
],
"trend":[
{"d":"2015-04-29T14:00:00Z","p":2137.5},
{"d":"2015-12-10T14:00:00Z","p":2112.9}
],
"tags":[
{"p":1859.33,"t":"1859,33","k":"last"},
{"p":1824.96,"t":"1824,96","k":"prev"}
]
},
"layer":[
{"data":{"name":"zones"},
 "mark":{"type":"rect","clip":true,"strokeWidth":1.5},
 "encoding":{
  "x":{"field":"x1","type":"temporal","title":null,"scale":{"type":"utc","domain":[{"year":2014,"month":2,"date":7,"hours":12,"utc":true},{"year":2016,"month":4,"date":1,"hours":2,"utc":true}]},
   "axis":{"values":[{"year":2014,"month":2,"date":13,"utc":true},{"year":2014,"month":7,"date":1,"utc":true},{"year":2014,"month":10,"date":1,"utc":true},{"year":2015,"month":1,"date":2,"utc":true},{"year":2015,"month":4,"date":1,"utc":true},{"year":2015,"month":7,"date":1,"utc":true},{"year":2015,"month":10,"date":1,"utc":true},{"year":2016,"month":1,"date":4,"utc":true}],
    "grid":true,"gridDash":[5,3],"gridColor":"#d0d0d0","domain":false,"tickColor":"#8a8a8a","tickSize":5,
    "tickOpacity":{"condition":{"test":"utcmonth(datum.value)==1","value":0},"value":1},
    "labelExpr":"utcmonth(datum.value)==0 ? utcFormat(datum.value,'%Y') : utcmonth(datum.value)==3 ? 'abr.' : utcmonth(datum.value)==6 ? 'jul.' : utcmonth(datum.value)==9 ? 'oct.' : ''",
    "labelFontSize":11,"labelColor":"#222222","labelPadding":3,"labelFlush":false,"labelOverlap":false,"title":null}},
  "x2":{"field":"x2"},
  "y":{"field":"lo","type":"quantitative","title":null,"scale":{"type":"log","domain":[1773,2179.3],"nice":false},
   "axis":{"orient":"right","values":[1800,1840,1880,1920,1960,2000,2040,2080,2120,2160],"grid":true,"gridDash":[5,3],"gridColor":"#d0d0d0","domain":false,"ticks":false,"labelPadding":6,
    "labelExpr":"replace(format(datum.value,'.2f'),'.',',')","labelFontSize":11,"labelColor":"#2b2b58","labelFlush":false,"labelOverlap":false,"title":null}},
  "y2":{"field":"hi"},
  "fill":{"field":"kind","type":"nominal","legend":null,"scale":{"domain":["support","resistance"],"range":["#b0f0a8","#ffb4b4"]}},
  "stroke":{"field":"kind","type":"nominal","legend":null,"scale":{"domain":["support","resistance"],"range":["#00c400","#f00000"]}}
 }},
{"data":{"name":"tags"},"transform":[{"filter":"datum.k=='prev'"}],
 "mark":{"type":"rule","stroke":"#9c9c9c","strokeDash":[5,3],"strokeWidth":1},
 "encoding":{"y":{"field":"p","type":"quantitative","title":null,"scale":{"type":"log","domain":[1773,2179.3],"nice":false}}}},
{"data":{"name":"ohlc"},
 "mark":{"type":"rule","color":"black","strokeWidth":1,"clip":true},
 "encoding":{
  "x":{"field":"d","type":"temporal","title":null,"scale":{"type":"utc","domain":[{"year":2014,"month":2,"date":7,"hours":12,"utc":true},{"year":2016,"month":4,"date":1,"hours":2,"utc":true}]}},
  "y":{"field":"l","type":"quantitative","title":null,"scale":{"type":"log","domain":[1773,2179.3],"nice":false}},
  "y2":{"field":"h"}}},
{"data":{"name":"ohlc"},
 "mark":{"type":"bar","size":2.4,"stroke":"black","strokeWidth":1,"clip":true},
 "encoding":{
  "x":{"field":"d","type":"temporal","title":null,"scale":{"type":"utc","domain":[{"year":2014,"month":2,"date":7,"hours":12,"utc":true},{"year":2016,"month":4,"date":1,"hours":2,"utc":true}]}},
  "y":{"field":"o","type":"quantitative","title":null,"scale":{"type":"log","domain":[1773,2179.3],"nice":false}},
  "y2":{"field":"c"},
  "fill":{"condition":{"test":"datum.c >= datum.o","value":"white"},"value":"black"}}},
{"data":{"name":"trend"},
 "mark":{"type":"line","stroke":"#1414f0","strokeWidth":3.4,"clip":true},
 "encoding":{
  "x":{"field":"d","type":"temporal","title":null,"scale":{"type":"utc","domain":[{"year":2014,"month":2,"date":7,"hours":12,"utc":true},{"year":2016,"month":4,"date":1,"hours":2,"utc":true}]}},
  "y":{"field":"p","type":"quantitative","title":null,"scale":{"type":"log","domain":[1773,2179.3],"nice":false}}}},
{"data":{"name":"tags"},
 "mark":{"type":"point","filled":true,"opacity":1,"size":2862,"xOffset":28,"shape":"M-1,0L-0.79,-0.235L1,-0.235L1,0.235L-0.79,0.235Z","strokeWidth":0},
 "encoding":{
  "x":{"value":"width"},
  "y":{"field":"p","type":"quantitative","title":null,"scale":{"type":"log","domain":[1773,2179.3],"nice":false}},
  "fill":{"field":"k","type":"nominal","legend":null,"scale":{"domain":["last","prev"],"range":["#000000","#acacac"]}}}},
{"data":{"name":"tags"},
 "mark":{"type":"text","align":"left","baseline":"middle","dx":8,"fontSize":11},
 "encoding":{
  "x":{"value":"width"},
  "y":{"field":"p","type":"quantitative","title":null,"scale":{"type":"log","domain":[1773,2179.3],"nice":false}},
  "text":{"field":"t"},
  "color":{"field":"k","type":"nominal","legend":null,"scale":{"domain":["last","prev"],"range":["#ffffff","#1a1a1a"]}}}},
{"data":{"values":[{"d":"2014-02-12T00:00:00Z","p":2166.8,"t":"* $SPX, S&P 500 INDEX, D, 00:00-00:00 (Dinámico) (delayed 15)"}]},
 "mark":{"type":"text","align":"left","baseline":"middle","fontSize":10.2,"color":"#111133"},
 "encoding":{
  "x":{"field":"d","type":"temporal","title":null,"scale":{"type":"utc","domain":[{"year":2014,"month":2,"date":7,"hours":12,"utc":true},{"year":2016,"month":4,"date":1,"hours":2,"utc":true}]}},
  "y":{"field":"p","type":"quantitative","title":null,"scale":{"type":"log","domain":[1773,2179.3],"nice":false}},
  "text":{"field":"t"}}},
{"data":{"values":[{"d":"2014-02-11T07:00:00Z","p":1781,"t":"© eSignal, 2016"}]},
 "mark":{"type":"text","align":"left","baseline":"middle","fontSize":9,"color":"#8a8a8a"},
 "encoding":{
  "x":{"field":"d","type":"temporal","title":null,"scale":{"type":"utc","domain":[{"year":2014,"month":2,"date":7,"hours":12,"utc":true},{"year":2016,"month":4,"date":1,"hours":2,"utc":true}]}},
  "y":{"field":"p","type":"quantitative","title":null,"scale":{"type":"log","domain":[1773,2179.3],"nice":false}},
  "text":{"field":"t"}}},
{"data":{"values":[{"x1":"2014-03-02T00:00:00Z","x2":"2014-03-16T00:00:00Z","lo":1757.3,"hi":1769.6,"k":"icon"},{"x1":"2014-03-20T00:00:00Z","x2":"2014-05-12T00:00:00Z","lo":1756.5,"hi":1771.1,"k":"date"}]},
 "mark":{"type":"rect","strokeWidth":1},
 "encoding":{
  "x":{"field":"x1","type":"temporal","title":null,"scale":{"type":"utc","domain":[{"year":2014,"month":2,"date":7,"hours":12,"utc":true},{"year":2016,"month":4,"date":1,"hours":2,"utc":true}]}},
  "x2":{"field":"x2"},
  "y":{"field":"lo","type":"quantitative","title":null,"scale":{"type":"log","domain":[1773,2179.3],"nice":false}},
  "y2":{"field":"hi"},
  "fill":{"field":"k","type":"nominal","legend":null,"scale":{"domain":["icon","date"],"range":["#d8d8d8","#ababab"]}},
  "stroke":{"field":"k","type":"nominal","legend":null,"scale":{"domain":["icon","date"],"range":["#7a7a7a","#ababab"]}}}},
{"data":{"values":[{"d":"2014-02-08T12:00:00Z","p":1763,"t":"Dyn"}]},
 "mark":{"type":"text","align":"left","baseline":"middle","fontSize":11,"fontWeight":"bold","color":"#111111"},
 "encoding":{
  "x":{"field":"d","type":"temporal","title":null,"scale":{"type":"utc","domain":[{"year":2014,"month":2,"date":7,"hours":12,"utc":true},{"year":2016,"month":4,"date":1,"hours":2,"utc":true}]}},
  "y":{"field":"p","type":"quantitative","title":null,"scale":{"type":"log","domain":[1773,2179.3],"nice":false}},
  "text":{"field":"t"}}},
{"data":{"values":[{"d":"2014-04-15T12:00:00Z","p":1763,"t":"13/02/2014"}]},
 "mark":{"type":"text","align":"center","baseline":"middle","fontSize":11,"color":"#1a1a1a"},
 "encoding":{
  "x":{"field":"d","type":"temporal","title":null,"scale":{"type":"utc","domain":[{"year":2014,"month":2,"date":7,"hours":12,"utc":true},{"year":2016,"month":4,"date":1,"hours":2,"utc":true}]}},
  "y":{"field":"p","type":"quantitative","title":null,"scale":{"type":"log","domain":[1773,2179.3],"nice":false}},
  "text":{"field":"t"}}}
],
"resolve":{"scale":{"fill":"independent","stroke":"independent","color":"independent"}}
}
